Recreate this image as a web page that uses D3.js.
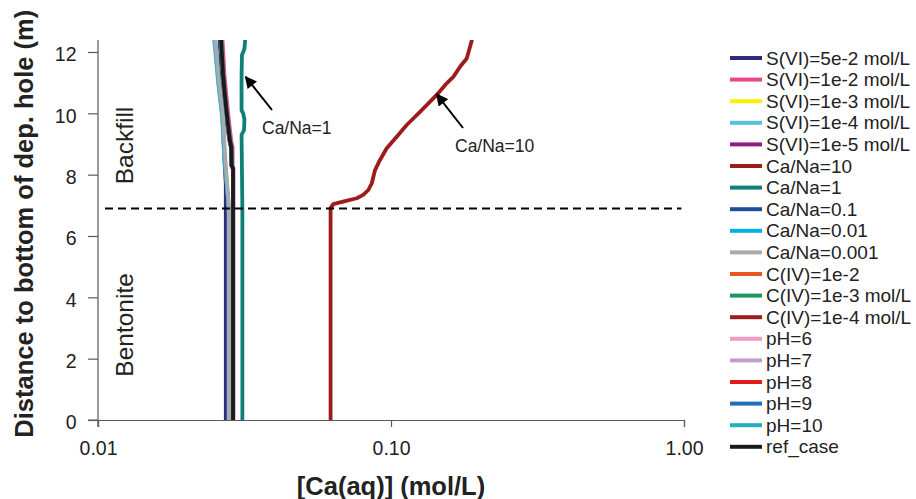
<!DOCTYPE html>
<html>
<head>
<meta charset="utf-8">
<script src="https://cdn.jsdelivr.net/npm/d3@7"></script>
<style>
  html, body { margin: 0; padding: 0; background: #fff; }
  svg { display: block; font-family: "Liberation Sans", Arial, Helvetica, sans-serif; }
</style>
</head>
<body>
<svg id="chart" width="916" height="499"></svg>
<script>
// Ca(aq) concentration profiles (mol/L) against distance to the bottom of the deposition hole (m)

const seriesNames = [
  "S(VI)=5e-2 mol/L", "S(VI)=1e-2 mol/L", "S(VI)=1e-3 mol/L", "S(VI)=1e-4 mol/L", "S(VI)=1e-5 mol/L",
  "Ca/Na=10", "Ca/Na=1", "Ca/Na=0.1", "Ca/Na=0.01", "Ca/Na=0.001",
  "C(IV)=1e-2", "C(IV)=1e-3 mol/L", "C(IV)=1e-4 mol/L",
  "pH=6", "pH=7", "pH=8", "pH=9", "pH=10", "ref_case"
];

const seriesColors = [
  "#2f2a7c", "#e8488a", "#fff000", "#5bbfdc", "#931c80",
  "#9e1b1b", "#0f7f79", "#1b4f9c", "#00b2e6", "#aaaaaa",
  "#e8561f", "#1b995b", "#9c1c20",
  "#f39ac0", "#c49dcc", "#e31b1d", "#1f70b7", "#20afbf", "#1a1a1a"
];

// depth points (m) shared by the near-identical profiles
const depthRef = [0, 6.9, 8.2, 8.3, 8.9, 9.1, 9.6, 10.0, 10.6, 11.3, 12.4];

// reference case and the runs that coincide with it
const caRef      = [0.0289, 0.0289, 0.0289, 0.0286, 0.0285, 0.0282, 0.0278, 0.0275, 0.0271, 0.0267, 0.0263];
const caSVI_1e2  = [0.0290, 0.0290, 0.0290, 0.0288, 0.0288, 0.0285, 0.0281, 0.0278, 0.0274, 0.0270, 0.0266];
const caCaNa_0p1 = [0.0289, 0.0289, 0.0289, 0.0285, 0.0284, 0.0281, 0.0276, 0.0273, 0.0268, 0.0264, 0.0260];

// runs sitting slightly to the left (grey band)
const depthLow   = [0, 6.9, 7.7, 8.5, 9.9, 11.0, 12.4];
const caCaNa_1e3 = [0.0280, 0.0280, 0.0276, 0.0272, 0.0267, 0.0259, 0.0251];
const caSVI_1e4  = [0.0279, 0.0279, 0.0275, 0.0270, 0.0265, 0.0257, 0.0249];
const caCaNa_1e2 = [0.0280, 0.0280, 0.0275, 0.0271, 0.0266, 0.0258, 0.0250];
const caSVI_5e2  = [0.0273, 0.0273, 0.0273, 0.0270, 0.0266, 0.0258, 0.0251];

// Ca/Na = 1
const depthCaNa1 = [0, 6.9, 9.3, 9.45, 9.8, 10.0, 10.1, 11.2, 11.9, 12.1, 12.4];
const caCaNa1    = [0.0311, 0.0311, 0.0309, 0.0315, 0.0316, 0.0313, 0.0309, 0.0309, 0.0310, 0.0316, 0.0318];

// Ca/Na = 10
const depthCaNa10 = [0, 6.91, 7.04, 7.12, 7.23, 7.34, 7.5, 7.72, 8.15, 8.48, 8.86, 9.24, 9.62, 10.05, 10.6, 10.98, 11.19, 11.52, 11.79, 12.17, 12.4];
const caCaNa10    = [0.0622, 0.0622, 0.0635, 0.0686, 0.0764, 0.0804, 0.0837, 0.0860, 0.0882, 0.0917, 0.0967, 0.1046, 0.1131, 0.1256, 0.1432, 0.1549, 0.1632, 0.1720, 0.1813, 0.1861, 0.1890];

const seriesValues = [
  [caSVI_5e2, depthLow], [caSVI_1e2, depthRef], [caRef, depthRef], [caSVI_1e4, depthLow], [caRef, depthRef],
  [caCaNa10, depthCaNa10], [caCaNa1, depthCaNa1], [caCaNa_0p1, depthRef], [caCaNa_1e2, depthLow], [caCaNa_1e3, depthLow],
  [caRef, depthRef], [caRef, depthRef], [caRef, depthRef],
  [caRef, depthRef], [caRef, depthRef], [caRef, depthRef], [caRef, depthRef], [caRef, depthRef], [caRef, depthRef]
];

const xTicks = [0.01, 0.1, 1];
const yTicks = [0, 2, 4, 6, 8, 10, 12];
const interfaceDepth = 6.9;

const svg = d3.select("#chart");
const plotLeft = 98, plotRight = 684, plotTop = 40, plotBottom = 420;

const x = d3.scaleLog().domain([0.01, 1]).range([plotLeft, plotRight]);
const y = d3.scaleLinear().domain([0, 12]).range([plotBottom, 52]);

// axes
const axisColor = "#5a5a5a";
const xAxis = svg.append("g").attr("transform", `translate(0,${plotBottom})`)
  .call(d3.axisBottom(x).tickValues(xTicks).tickFormat(d3.format(".2f")).tickSize(7).tickPadding(14));
const yAxis = svg.append("g").attr("transform", `translate(${plotLeft},0)`)
  .call(d3.axisLeft(y).tickValues(yTicks).tickSize(10).tickPadding(11.5));
yAxis.select(".domain").attr("d", `M-10,${plotBottom}H0V${plotTop}`);
[xAxis, yAxis].forEach(g => {
  g.select(".domain").attr("stroke", axisColor).attr("stroke-width", 1.2);
  g.selectAll(".tick line").attr("stroke", axisColor).attr("stroke-width", 1.2);
  g.selectAll(".tick text").attr("fill", "#222").style("font-size", "19.5px")
    .style("font-family", "'Liberation Sans', Arial, sans-serif");
});
yAxis.selectAll(".tick text").attr("dy", "0.45em");
// y axis extends below the x axis by a tick length
svg.append("line").attr("x1", plotLeft).attr("x2", plotLeft).attr("y1", plotBottom).attr("y2", plotBottom + 7)
  .attr("stroke", axisColor).attr("stroke-width", 1.2);

// clip area for profiles
svg.append("clipPath").attr("id", "plot-clip").append("rect")
  .attr("x", plotLeft).attr("y", plotTop).attr("width", plotRight - plotLeft).attr("height", plotBottom - plotTop);

const line = d3.line().x(d => x(d[0])).y(d => y(d[1]));
const plot = svg.append("g").attr("clip-path", "url(#plot-clip)");
seriesValues.forEach(([ca, depth], i) => {
  plot.append("path")
    .attr("d", line(ca.map((c, k) => [c, depth[k]])))
    .attr("fill", "none")
    .attr("stroke", seriesColors[i])
    .attr("stroke-width", 3.8)
    .attr("stroke-linejoin", "round");
});

// bentonite / backfill interface
svg.append("line")
  .attr("x1", plotLeft + 7).attr("x2", x(0.98)).attr("y1", y(interfaceDepth)).attr("y2", y(interfaceDepth))
  .attr("stroke", "#000").attr("stroke-width", 2).attr("stroke-dasharray", "8,5");

// zone labels
const zone = (txt, cy) => svg.append("text")
  .attr("transform", `translate(133,${cy}) rotate(-90)`)
  .attr("text-anchor", "middle").attr("fill", "#222").style("font-size", "24.5px").text(txt);
zone("Backfill", y(8.95));
zone("Bentonite", y(3.1));

// arrows and annotations
svg.append("defs").append("marker").attr("id", "arrowhead")
  .attr("viewBox", "0 0 10 10").attr("refX", 9).attr("refY", 5)
  .attr("markerWidth", 6.5).attr("markerHeight", 6).attr("orient", "auto")
  .append("path").attr("d", "M0,0 L10,5 L0,10 Z").attr("fill", "#000");

const annotate = (label, tipVal, tipDepth, tail, textPos) => {
  svg.append("line")
    .attr("x1", tail[0]).attr("y1", tail[1])
    .attr("x2", x(tipVal)).attr("y2", y(tipDepth))
    .attr("stroke", "#000").attr("stroke-width", 2).attr("marker-end", "url(#arrowhead)");
  svg.append("text").attr("x", textPos[0]).attr("y", textPos[1])
    .attr("fill", "#222").style("font-size", "17.5px").text(label);
};
annotate("Ca/Na=1", 0.0319, 11.19, [272, 110], [262, 134]);
annotate("Ca/Na=10", 0.1432, 10.62, [463, 128], [455, 152]);

// legend
const legend = svg.append("g").attr("transform", "translate(730,58)");
seriesNames.forEach((name, i) => {
  const row = legend.append("g").attr("transform", `translate(0,${i * 21.6})`);
  row.append("line").attr("x1", 0).attr("x2", 32).attr("y1", 0).attr("y2", 0)
    .attr("stroke", seriesColors[i]).attr("stroke-width", 4);
  row.append("text").attr("x", 36).attr("y", 0).attr("dy", "0.35em")
    .attr("fill", "#222").style("font-size", "19px").text(name);
});

// axis titles
svg.append("text").attr("x", 391).attr("y", 495).attr("text-anchor", "middle")
  .attr("fill", "#222").style("font-size", "25.5px").style("font-weight", "bold")
  .text("[Ca(aq)] (mol/L)");
svg.append("text").attr("transform", `translate(33,${y(6.4)}) rotate(-90)`)
  .attr("text-anchor", "middle").attr("fill", "#222").style("font-size", "25.5px").style("font-weight", "bold")
  .text("Distance to bottom of dep. hole (m)");
</script>
</body>
</html>
